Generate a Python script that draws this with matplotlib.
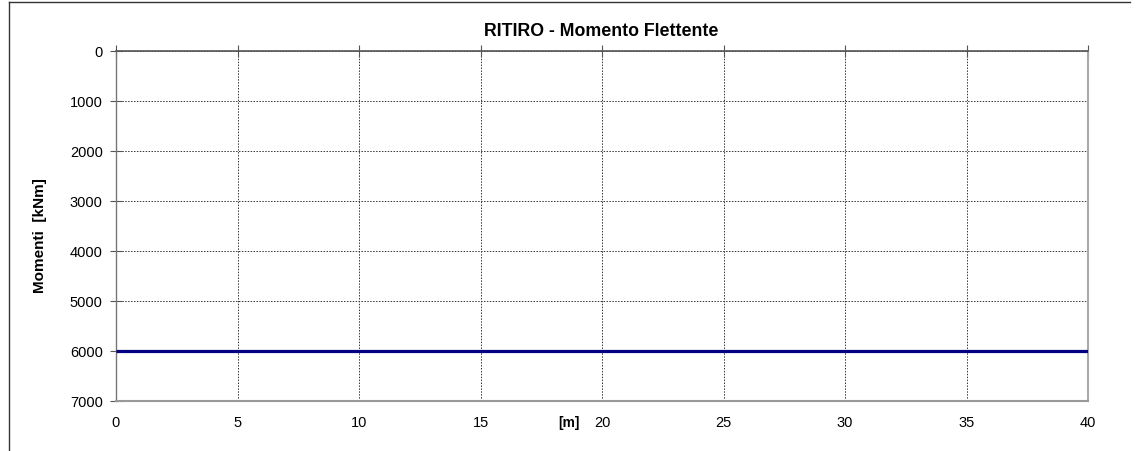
import matplotlib.pyplot as plt
from matplotlib.lines import Line2D

plt.rcParams['font.family'] = ['Liberation Sans', 'DejaVu Sans']

# data
x_m = [0, 40]
momenti = [6000, 6000]
x_ticks = [0, 5, 10, 15, 20, 25, 30, 35, 40]
y_ticks = [0, 1000, 2000, 3000, 4000, 5000, 6000, 7000]

W, H = 1137, 452
fig = plt.figure(figsize=(W / 100, H / 100), dpi=100)
ax = fig.add_axes([116 / W, 1 - 402 / H, (1088 - 116) / W, (402 - 52) / H])

ax.plot(x_m, momenti, color='#000080', lw=2.3, solid_capstyle='butt', zorder=3)

ax.set_xlim(0, 40)
ax.set_ylim(7000, 0)
ax.set_xticks(x_ticks)
ax.set_yticks(y_ticks)
ax.grid(True, color='#333333', ls=(0, (1.5, 1.5)), lw=0.7)

# x axis crosses at top, labels stay at bottom
ax.tick_params(axis='x', which='both', top=True, bottom=False, direction='inout',
               length=8, width=0.8, color='#555555', labelsize=10.5, pad=6)
ax.tick_params(axis='y', direction='inout', length=9, width=0.8, color='#555555',
               labelsize=10.5, pad=5)
ax.spines['top'].set_color('#555555')
ax.spines['top'].set_linewidth(1.2)
ax.spines['left'].set_color('#777777')
ax.spines['left'].set_linewidth(1.0)
ax.spines['bottom'].set_color('#999999')
ax.spines['bottom'].set_linewidth(1.5)
ax.spines['right'].set_color('#aaaaaa')
ax.spines['right'].set_linewidth(1.5)

fig.text(601 / W, 1 - 32 / H, 'RITIRO - Momento Flettente', ha='center', va='center',
         fontsize=12.8, fontweight='bold')
fig.text(569 / W, 1 - 423 / H, '[m]', ha='center', va='center',
         fontsize=10, fontweight='bold')
fig.text(40 / W, 1 - 236 / H, 'Momenti  [kNm]', ha='center', va='center',
         rotation=90, fontsize=11, fontweight='bold')

# chart area border
fig.add_artist(Line2D([9 / W, 1130 / W], [1 - 3 / H, 1 - 3 / H], color='#333333', lw=1))
fig.add_artist(Line2D([9 / W, 9 / W], [0, 1 - 3 / H], color='#333333', lw=1))

fig.savefig('out.png', dpi=100)
